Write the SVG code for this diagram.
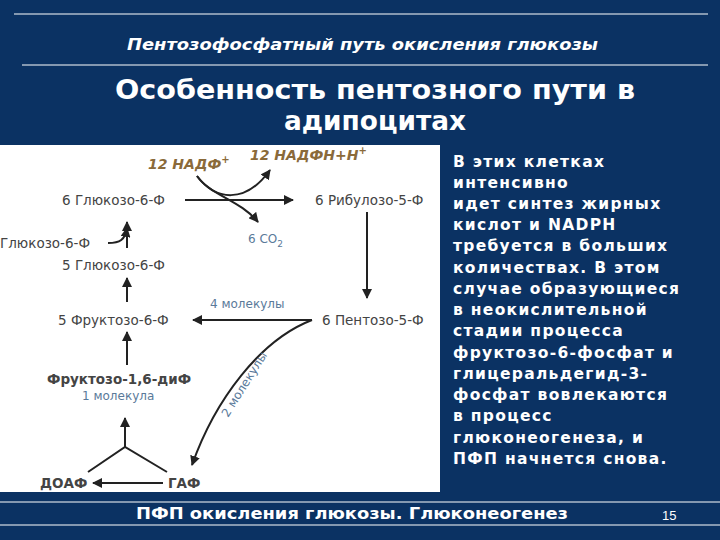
<svg xmlns="http://www.w3.org/2000/svg" width="720" height="540" viewBox="0 0 720 540">
<defs>
<style>
.d{font-family:"DejaVu Sans",sans-serif;font-size:13.5px;fill:#444}
.b{font-family:"DejaVu Sans",sans-serif;font-size:12px;fill:#5a7a9a}
.o{font-family:"DejaVu Sans",sans-serif;font-size:14px;font-weight:bold;font-style:italic;fill:#8a6a3a}
.w{font-family:"DejaVu Sans",sans-serif;font-size:15.5px;font-weight:bold;fill:#fff;letter-spacing:1.3px}
.c{stroke:#222;stroke-width:2;fill:none}
</style>
<marker id="a" viewBox="0 0 10 10" refX="9" refY="5" markerWidth="5" markerHeight="5" orient="auto"><path d="M0,0L10,5L0,10z" fill="#222"/></marker>
</defs>
<rect width="720" height="540" fill="#0b3263"/>
<line x1="14" y1="14" x2="708" y2="14" stroke="#fff" stroke-width="1"/>
<line x1="22" y1="65" x2="708" y2="65" stroke="#fff" stroke-width="1"/>
<text x="127" y="50" textLength="471" lengthAdjust="spacingAndGlyphs" font-family="DejaVu Sans,sans-serif" font-size="16" font-style="italic" font-weight="bold" fill="#fff">Пентозофосфатный путь окисления глюкозы</text>
<text x="115" y="99" textLength="520" lengthAdjust="spacingAndGlyphs" font-family="DejaVu Sans,sans-serif" font-size="26" font-weight="bold" fill="#fff">Особенность  пентозного пути  в</text>
<text x="284" y="130" textLength="182" lengthAdjust="spacingAndGlyphs" font-family="DejaVu Sans,sans-serif" font-size="26" font-weight="bold" fill="#fff">адипоцитах</text>
<rect x="0" y="145" width="440" height="347" fill="#fff"/>
<g id="connectors">
<line class="c" x1="185" y1="200" x2="293" y2="200" marker-end="url(#a)"/>
<path class="c" d="M197,176 C215,200 245,205 270,170" marker-end="url(#a)"/>
<path class="c" d="M197,176 C210,195 240,200 258,222" marker-end="url(#a)"/>
<line class="c" x1="367" y1="212" x2="367" y2="298" marker-end="url(#a)"/>
<line class="c" x1="312" y1="320" x2="193" y2="320" marker-end="url(#a)"/>
<path class="c" d="M312,320 C260,340 215,400 192,465" marker-end="url(#a)"/>
<line class="c" x1="127" y1="302" x2="127" y2="278" marker-end="url(#a)"/>
<line class="c" x1="127" y1="248" x2="127" y2="222" marker-end="url(#a)"/>
<path class="c" d="M108,243 C120,243 125,240 127,228" marker-end="url(#a)"/>
<line class="c" x1="127" y1="365" x2="127" y2="332" marker-end="url(#a)"/>
<line class="c" x1="125" y1="447" x2="125" y2="418" marker-end="url(#a)"/>
<path class="c" d="M88,472 L125,447 L167,472"/>
<line class="c" x1="163" y1="483" x2="93" y2="483" marker-end="url(#a)"/>
</g>
<g id="n-nadp"><text class="o" x="148" y="169">12 НАДФ<tspan dy="-6" font-size="10">+</tspan></text></g>
<g id="n-nadph"><text class="o" x="250" y="160">12 НАДФН+Н<tspan dy="-6" font-size="10">+</tspan></text></g>
<g id="n-g6p6"><text class="d" x="62" y="205">6 Глюкозо-6-Ф</text></g>
<g id="n-ru5p"><text class="d" x="315" y="205">6 Рибулозо-5-Ф</text></g>
<g id="n-co2"><text class="b" x="248" y="243">6 CO<tspan dy="4" font-size="9">2</tspan></text></g>
<g id="n-g6p"><text class="d" x="0" y="248">Глюкозо-6-Ф</text></g>
<g id="n-g6p5"><text class="d" x="62" y="270">5 Глюкозо-6-Ф</text></g>
<g id="n-4m"><text class="b" x="210" y="308">4 молекулы</text></g>
<g id="n-f6p"><text class="d" x="58" y="325">5 Фруктозо-6-Ф</text></g>
<g id="n-p5p"><text class="d" x="322" y="325">6 Пентозо-5-Ф</text></g>
<g id="n-2m"><text class="b" transform="translate(228,418) rotate(-58)">2 молекулы</text></g>
<g id="n-fbp"><text class="d" x="47" y="384" font-weight="bold" fill="#555">Фруктозо-1,6-диФ</text><text class="b" x="82" y="400">1 молекула</text></g>
<g id="n-doaf"><text class="d" x="40" y="488" font-weight="bold">ДОАФ</text></g>
<g id="n-gaf"><text class="d" x="168" y="488" font-weight="bold">ГАФ</text></g>
<g id="side">
<text class="w" x="453" y="167">В этих клетках</text>
<text class="w" x="453" y="188">интенсивно</text>
<text class="w" x="453" y="209">идет синтез жирных</text>
<text class="w" x="453" y="230">кислот  и NADPH</text>
<text class="w" x="453" y="251">требуется в больших</text>
<text class="w" x="453" y="273">количествах. В этом</text>
<text class="w" x="453" y="294">случае  образующиеся</text>
<text class="w" x="453" y="315">в неокислительной</text>
<text class="w" x="453" y="336">стадии процесса</text>
<text class="w" x="453" y="358">фруктозо-6-фосфат и</text>
<text class="w" x="453" y="379">глицеральдегид-3-</text>
<text class="w" x="453" y="400">фосфат  вовлекаются</text>
<text class="w" x="453" y="421">в процесс</text>
<text class="w" x="453" y="443">глюконеогенеза,   и</text>
<text class="w" x="453" y="464">ПФП начнется снова.</text>
</g>
<line x1="0" y1="502" x2="720" y2="502" stroke="#fff" stroke-width="1"/>
<line x1="0" y1="525" x2="720" y2="525" stroke="#fff" stroke-width="1"/>
<text x="136" y="519" textLength="432" lengthAdjust="spacingAndGlyphs" font-family="DejaVu Sans,sans-serif" font-size="16" font-weight="bold" fill="#fff">ПФП окисления глюкозы. Глюконеогенез</text>
<text x="662" y="520" font-family="Liberation Sans,Arial,sans-serif" font-size="13" fill="#fff">15</text>
</svg>
